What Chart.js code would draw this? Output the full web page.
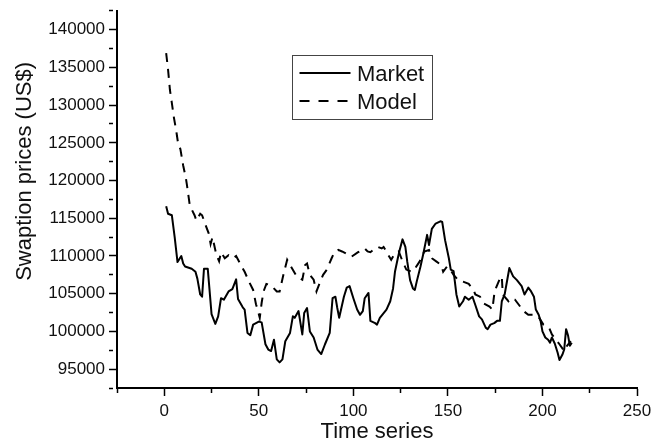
<!DOCTYPE html>
<html>
<head>
<meta charset="utf-8">
<script src="https://cdn.jsdelivr.net/npm/chart.js@4/dist/chart.umd.min.js"></script>
<style>
  html, body { margin: 0; padding: 0; background: #fff; }
  #wrap { width: 665px; height: 444px; }
</style>
</head>
<body>
<div id="wrap"><canvas id="swaptionChart" width="665" height="444"></canvas></div>
<script>
const FONT = "'Liberation Sans', Arial, Helvetica, sans-serif";
const INK = '#111';

const X_TITLE = 'Time series';
const Y_TITLE = 'Swaption prices (US$)';

// x range and tick steps
const X_MIN = -25, X_MAX = 250, X_STEP = 25, X_LABEL_EVERY = 50;
const Y_MIN = 92500, Y_MAX = 142500, Y_STEP = 2500, Y_LABEL_EVERY = 5000;

// Market (solid)
const marketTime = [1,2,4,5.5,7,9,10,11,14.5,16.5,
    17.5,19,20,21,23,24,25,27,28.5,30,
    31.5,34,36,38,39,41.5,42.5,44,45.5,47,
    50,51.5,53.5,55,56.5,58,59.5,61,62.5,64,
    66.5,68,69,71,73,74,75.5,77,79,81,
    83,85,87.5,89,90.5,91.5,92.5,95,96.5,98,
    100,102,103.5,105,106,108,109,111.5,112.5,114,
    117.5,119.5,121,122,123.5,124.5,126,127.5,128.5,130,
    131.5,132.5,133.5,135.5,137,139,140,141.5,143.5,146,
    147,148.5,150.5,151.5,153,154.5,156,158,159,161,
    163,164.5,166.5,168,170,171,172.5,174.5,176,177.5,
    178.5,180,182.5,184.5,186.5,189,190.5,192.5,194,195.5,
    196.5,198,199,200,201.5,203,204,205,206.5,208,
    209,210.5,211.5,212.5,213.5,214.5,215.5];
const marketPrice = [116600,115600,115400,112500,109200,110000,109000,108600,108300,107900,
    107000,104900,104600,108300,108300,105300,102300,101000,102000,104400,
    104200,105300,105600,106900,104300,103200,102900,99800,99500,100900,
    101300,101200,98300,97600,97400,98900,96300,95900,96300,98700,
    99800,102000,101800,102700,99600,102450,103100,100000,99200,97600,
    97000,98300,99800,104400,104600,103100,101800,104600,105800,106000,
    104400,102900,102200,102700,104400,105100,101400,101100,100900,101800,
    102900,104000,105700,107900,109700,110800,112200,111200,109250,106800,
    105700,105500,106600,108600,110300,112800,111450,113600,114300,114600,
    114500,112100,109700,108200,108000,104900,103300,104000,104600,104200,
    104600,103500,102000,101600,100500,100300,100900,101100,101400,101400,
    104000,104900,108400,107300,106800,106000,104900,105800,105300,104600,
    102900,102200,101400,100000,99200,98900,98500,99200,98400,97200,
    96200,96900,97600,100300,99500,98100,98500];

// Model (dashed)
const modelTime = [1,2,3,4,5,6.5,7.5,8.5,10,11.5,
    12,13.5,16,17,19,20,22,23.5,24.5,25.5,
    27.5,29,30,32,34,36.5,38,40.5,42.5,45,
    47,48.5,49.5,50.5,51.5,52.5,54,56.5,59.5,61,
    63,65,67,70,73,74.5,75.5,77,79,80.5,
    82.5,84,86,88.5,90,92,94,96,99,102.5,
    106,107.5,109,111.5,113,115,116,117.5,118.5,120,
    122,124,126,128,131,132.5,135,137.5,140,141.5,
    144,146.5,147.5,149.5,151,153,155.5,158,161,163.5,
    164.5,167,169,172,173.5,174.5,175.5,177.5,178.5,179,
    182,183.5,185.5,190,192.5,195.5,198,200.5,203.5,205,
    209,211.5,213,215];
const modelPrice = [136900,134700,132000,130300,128500,126300,124600,124200,122000,120200,
    119400,116700,115400,114700,115600,115400,114000,113000,111600,112500,
    110200,109300,110500,109700,110100,109700,110000,108800,107900,106500,
    105500,103600,102800,101800,103800,105300,106300,106100,105300,105300,
    107500,109500,108600,107300,106850,108800,109000,107500,106850,105300,
    106600,107500,108200,109700,110500,110800,110600,110350,109900,110500,
    111000,110600,110500,111000,111200,111000,111200,110600,110100,109500,
    110350,110600,109300,108200,107900,108300,109250,110600,110800,109700,
    109250,108800,107900,108600,108300,107500,106800,106600,106300,105500,
    104900,104600,103700,103300,102900,104900,105800,107000,107300,104900,
    104000,104400,104200,102700,102200,102200,101900,100900,100500,99600,
    98300,97400,98100,98700];

const toPoints = (xs, ys) => xs.map((x, i) => ({x: x, y: ys[i]}));

// frame legend + rotated y title, drawn on top
const decorPlugin = {
    id: 'decor',
    afterDraw(chart) {
        const ctx = chart.ctx;
        const area = chart.chartArea;
        ctx.save();

        // y axis title, a bit above the centre like the original
        ctx.fillStyle = INK;
        ctx.font = `22px ${FONT}`;
        ctx.textAlign = 'center';
        ctx.textBaseline = 'middle';
        ctx.translate(24.5, (area.top + area.bottom) / 2 - 28);
        ctx.rotate(-Math.PI / 2);
        ctx.fillText(Y_TITLE, 0, 0);
        ctx.setTransform(1, 0, 0, 1, 0, 0);

        // legend
        const box = {left: 292.5, top: 55.5, w: 140, h: 64};
        ctx.strokeStyle = '#444';
        ctx.lineWidth = 1;
        ctx.strokeRect(box.left, box.top, box.w, box.h);

        ctx.font = `22px ${FONT}`;
        ctx.textAlign = 'left';
        ctx.textBaseline = 'alphabetic';
        chart.data.datasets.forEach((ds, i) => {
            const y = box.top + 17.5 + i * 28;
            ctx.beginPath();
            ctx.setLineDash(ds.legendDash || []);
            ctx.lineWidth = ds.borderWidth;
            ctx.strokeStyle = ds.borderColor;
            ctx.moveTo(box.left + 7, y);
            ctx.lineTo(box.left + 58, y);
            ctx.stroke();
            ctx.setLineDash([]);
            ctx.fillText(ds.label, box.left + 64.5, y + 8);
        });
        ctx.restore();
    }
};

const ctx = document.getElementById('swaptionChart').getContext('2d');

new Chart(ctx, {
    type: 'line',
    data: {
        datasets: [
            {
                label: 'Market',
                data: toPoints(marketTime, marketPrice),
                borderColor: '#000',
                borderWidth: 2,
                pointRadius: 0,
                tension: 0,
                borderJoinStyle: 'round',
                legendDash: []
            },
            {
                label: 'Model',
                data: toPoints(modelTime, modelPrice),
                borderColor: '#000',
                borderWidth: 2,
                borderDash: [9, 7],
                pointRadius: 0,
                tension: 0,
                legendDash: [10, 9]
            }
        ]
    },
    options: {
        responsive: false,
        animation: false,
        layout: { padding: { top: 7, right: 28, left: 0, bottom: 0 } },
        plugins: {
            legend: { display: false },
            tooltip: { enabled: false }
        },
        scales: {
            x: {
                type: 'linear',
                min: X_MIN,
                max: X_MAX,
                afterFit: scale => { scale.height = 56; },
                ticks: {
                    stepSize: X_STEP,
                    autoSkip: false,
                    maxRotation: 0,
                    padding: 5,
                    color: INK,
                    font: { family: FONT, size: 17 },
                    callback: v => v % X_LABEL_EVERY === 0 ? String(v) : ''
                },
                grid: {
                    drawOnChartArea: false,
                    drawTicks: true,
                    tickLength: 8,
                    tickColor: '#000',
                    tickWidth: 1.5,
                    tickBorderDash: c => (c.tick && c.tick.value % X_LABEL_EVERY !== 0) ? [4, 20] : []
                },
                border: { display: true, color: '#000', width: 2 },
                title: {
                    display: true,
                    text: X_TITLE,
                    color: INK,
                    font: { family: FONT, size: 22, lineHeight: 1 },
                    padding: { top: 0, bottom: 1 }
                }
            },
            y: {
                type: 'linear',
                min: Y_MIN,
                max: Y_MAX,
                afterFit: scale => { scale.width = 117; },
                ticks: {
                    stepSize: Y_STEP,
                    autoSkip: false,
                    padding: 4,
                    color: INK,
                    font: { family: FONT, size: 17, lineHeight: 0.8 },
                    callback: v => v % Y_LABEL_EVERY === 0 ? String(v) : ''
                },
                grid: {
                    drawOnChartArea: false,
                    drawTicks: true,
                    tickLength: 8,
                    tickColor: '#000',
                    tickWidth: 1.5,
                    tickBorderDash: c => (c.tick && c.tick.value % Y_LABEL_EVERY !== 0) ? [4, 20] : []
                },
                border: { display: true, color: '#000', width: 2 },
                title: { display: false }
            }
        }
    },
    plugins: [decorPlugin]
});
</script>
</body>
</html>
